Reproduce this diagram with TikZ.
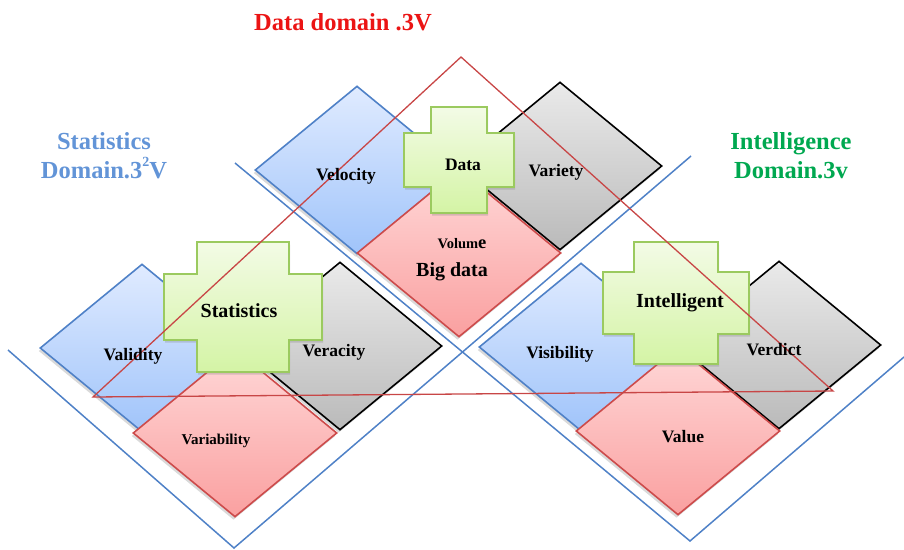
\documentclass[tikz,border=0pt]{standalone}
\usepackage{fontspec}
\setmainfont{Liberation Serif}
\usetikzlibrary{shapes.geometric, shadows}

\definecolor{lineblue}{RGB}{79,129,199}
\definecolor{bluetop}{RGB}{224,235,255}
\definecolor{bluebot}{RGB}{160,196,250}
\definecolor{graytop}{RGB}{234,234,234}
\definecolor{graybot}{RGB}{186,186,186}
\definecolor{pinktop}{RGB}{255,216,216}
\definecolor{pinkbot}{RGB}{250,160,160}
\definecolor{pinkline}{RGB}{205,75,75}
\definecolor{plustop}{RGB}{243,251,230}
\definecolor{plusbot}{RGB}{212,244,165}
\definecolor{plusline}{RGB}{155,202,95}
\definecolor{trired}{RGB}{200,70,70}
\definecolor{domred}{RGB}{235,20,20}
\definecolor{domblue}{RGB}{98,148,215}
\definecolor{domgreen}{RGB}{0,168,80}

\tikzset{
    pics/plusbox/.style n args={4}{code={
        \path[plusfill] (-#1,-#2) -- (#1,-#2) -- (#1,-#4) -- (#3,-#4)
            -- (#3,#4) -- (#1,#4) -- (#1,#2) -- (-#1,#2) -- (-#1,#4)
            -- (-#3,#4) -- (-#3,-#4) -- (-#1,-#4) -- cycle;
    }},
}

\begin{document}
\begin{tikzpicture}[
    x=1pt,
    y=-1pt,
    vshape/.style={diamond, minimum width=204pt, minimum height=168pt,
        inner sep=0pt, line width=1.6pt,
        drop shadow={shadow xshift=-1.5pt, shadow yshift=-3pt, opacity=0.3}},
    vblue/.style={vshape, draw=lineblue, top color=bluetop, bottom color=bluebot},
    vgray/.style={vshape, draw=black, top color=graytop, bottom color=graybot},
    vpink/.style={vshape, draw=pinkline, top color=pinktop, bottom color=pinkbot},
    plusfill/.style={draw=plusline, line width=1.7pt, top color=plustop,
        bottom color=plusbot,
        drop shadow={shadow xshift=1pt, shadow yshift=-2.5pt, opacity=0.3}},
    domline/.style={draw=lineblue, line width=1.5pt},
    triline/.style={draw=trired, line width=1.3pt},
    lbl/.style={font=\bfseries\fontsize{17.5}{20}\selectfont, inner sep=0pt},
    biglbl/.style={font=\bfseries\fontsize{20}{22}\selectfont, inner sep=0pt},
    domlbl/.style={font=\bfseries\fontsize{24.5}{29}\selectfont, align=center, inner sep=0pt},
]
    \useasboundingbox (0,0) rectangle (904,549);

    % domain borders
    \coordinate (sl) at (8,350);
    \coordinate (sb) at (234,548);
    \coordinate (dr) at (691,156);
    \coordinate (dl) at (235,163);
    \coordinate (ib) at (690,541);
    \coordinate (ir) at (904,357);
    \draw[domline] (sl) -- (sb) -- (dr);
    \draw[domline] (dl) -- (ib) -- (ir);

    % data domain
    \node[vblue] (velocity) at (357,170) {};
    \node[vgray] (variety)  at (560,166) {};
    \node[vpink] (volume)   at (459,253) {};

    % statistics domain
    \node[vblue] (validity)    at (142,348) {};
    \node[vgray] (veracity)    at (340,346) {};
    \node[vpink] (variability) at (235,433) {};

    % intelligence domain
    \node[vblue] (visibility) at (581,347) {};
    \node[vgray] (verdict)    at (779,345) {};
    \node[vpink] (value)      at (678,431) {};

    \pic at (459,160) {plusbox={28}{53}{55}{27}};
    \pic at (243,307) {plusbox={46}{65}{79}{33}};
    \pic at (676,303) {plusbox={42}{61}{73}{31}};

    % red triangle
    \coordinate (apex)  at (461,57);
    \coordinate (left)  at (93,397);
    \coordinate (right) at (833,391);
    \draw[triline] (apex) -- (left) -- (right) -- cycle;

    % labels
    \node[lbl] (velocity-t)    at (346,176) {Velocity};
    \node[lbl] (variety-t)     at (556,172) {Variety};
    \node[lbl] (data-t)        at (463,165) {Data};
    \node[lbl] (volume-t)      at (462,244) {{\fontsize{14.5}{16}\selectfont Volum}{\fontsize{18.5}{20}\selectfont e}};
    \node[biglbl] (bigdata-t)  at (452,272) {Big data};
    \node[lbl] (validity-t)    at (133,356) {Validity};
    \node[lbl] (veracity-t)    at (334,352) {Veracity};
    \node[biglbl] (stat-t)     at (239,311) {Statistics};
    \node[lbl, font=\bfseries\fontsize{15}{17}\selectfont] (variability-t) at (216,441) {Variability};
    \node[lbl] (visibility-t)  at (560,354) {Visibility};
    \node[lbl] (verdict-t)     at (774,350) {Verdict};
    \node[biglbl] (intel-t)    at (680,303) {Intelligent};
    \node[lbl] (value-t)       at (683,437) {Value};

    % domain titles
    \node[domlbl, text=domred]   (datadom)  at (343,22)  {Data domain .3V};
    \node[domlbl, text=domblue]  (statdom)  at (104,156) {Statistics\\Domain.3\raisebox{1.1ex}{\fontsize{14}{14}\selectfont 2}V};
    \node[domlbl, text=domgreen] (inteldom) at (791,156) {Intelligence\\Domain.3v};
\end{tikzpicture}
\end{document}
